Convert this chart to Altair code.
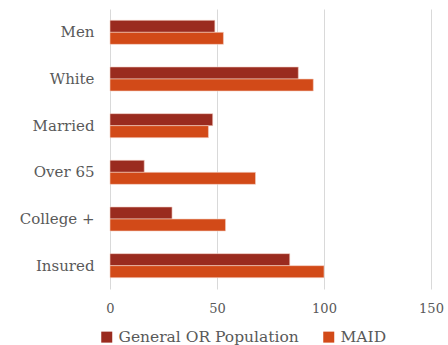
import altair as alt
import pandas as pd

categories = ["Men", "White", "Married", "Over 65", "College +", "Insured"]
series = ["General OR Population", "MAID"]
general = [49, 88, 48, 16, 29, 84]
maid = [53, 95, 46, 68, 54, 100]
colors = ["#9a2b1f", "#d24a18"]

rows = []
for c, g, m in zip(categories, general, maid):
    rows.append({"category": c, "series": series[0], "value": g})
    rows.append({"category": c, "series": series[1], "value": m})
df = pd.DataFrame(rows)

font = "DejaVu Serif"
gray = "#595959"

chart = alt.Chart(df).mark_bar(stroke="#f4d0c4", strokeWidth=0.6).encode(
    x=alt.X("value:Q", scale=alt.Scale(domain=[0, 150], nice=False),
            axis=alt.Axis(values=[0, 50, 100, 150], title=None, domain=False, ticks=False,
                          grid=True, gridColor="#d9d9d9", gridWidth=1, labelFlush=False,
                          labelFont=font, labelFontSize=13, labelColor=gray,
                          labelPadding=13)),
    y=alt.Y("category:N", sort=categories,
            scale=alt.Scale(paddingInner=0.485, paddingOuter=0.2425),
            axis=alt.Axis(title=None, domain=False, ticks=False,
                          labelFont=font, labelFontSize=15, labelColor=gray,
                          labelPadding=16)),
    yOffset=alt.YOffset("series:N", sort=series),
    color=alt.Color("series:N", sort=series,
                    scale=alt.Scale(domain=series, range=colors),
                    legend=alt.Legend(title=None, orient="none", direction="horizontal",
                                      legendX=-11, legendY=320,
                                      symbolType="square", symbolSize=121,
                                      symbolStrokeWidth=0, labelLimit=0,
                                      labelFont=font, labelFontSize=15.5, labelColor=gray,
                                      columnPadding=22, labelOffset=4)),
).properties(
    width=321, height=280,
    autosize=alt.AutoSizeParams(type="none"),
    padding={"left": 110, "top": 9, "right": 17, "bottom": 56},
).configure_view(stroke=None)

chart.save("out.html", embed_options={"renderer": "svg", "actions": False})
